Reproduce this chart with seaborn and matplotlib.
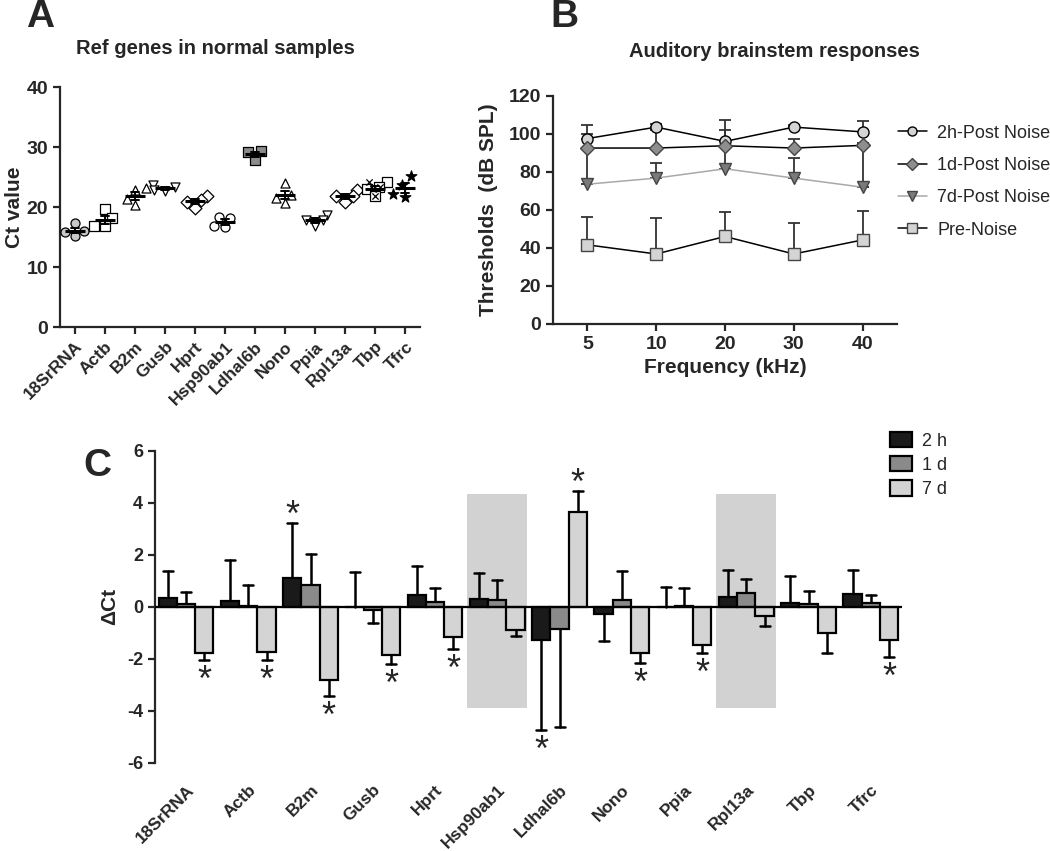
import numpy as np
import pandas as pd
import matplotlib
matplotlib.use("Agg")
import matplotlib.pyplot as plt
import seaborn as sns
from matplotlib.lines import Line2D

# ------------------------
# Panel A: Ct values of reference genes in normal samples
# ------------------------
genes = ["18SrRNA", "Actb", "B2m", "Gusb", "Hprt", "Hsp90ab1",
         "Ldhal6b", "Nono", "Ppia", "Rpl13a", "Tbp", "Tfrc"]
ct_18srrna = [17.3, 16.0, 15.9, 15.1]
ct_actb = [19.7, 18.1, 16.8, 16.8]
ct_b2m = [23.1, 22.8, 21.4, 20.3]
ct_gusb = [23.4, 23.6, 22.6, 22.8]
ct_hprt = [21.8, 21.2, 20.9, 19.8]
ct_hsp90ab1 = [18.3, 18.2, 16.8, 16.7]
ct_ldhal6b = [29.3, 29.2, 27.9]
ct_nono = [24.0, 22.0, 21.5, 20.6]
ct_ppia = [18.6, 17.8, 17.9, 16.8]
ct_rpl13a = [22.8, 21.9, 21.8, 20.8]
ct_tbp = [24.1, 23.4, 23.0, 21.8]
ct_tfrc = [25.2, 23.7, 22.2, 21.7]
ct_values = [ct_18srrna, ct_actb, ct_b2m, ct_gusb, ct_hprt, ct_hsp90ab1,
             ct_ldhal6b, ct_nono, ct_ppia, ct_rpl13a, ct_tbp, ct_tfrc]

# ------------------------
# Panel B: ABR thresholds (mean, upper SD)
# ------------------------
freqs = ["5", "10", "20", "30", "40"]
abr_2h = [97.5, 103.5, 96.0, 103.5, 101.0]
abr_2h_sd = [7.0, 1.5, 11.5, 1.0, 5.5]
abr_1d = [92.5, 92.5, 93.7, 92.5, 93.9]
abr_1d_sd = [7.5, 9.5, 8.5, 5.0, 1.0]
abr_7d = [73.5, 76.7, 81.6, 76.7, 71.9]
abr_7d_sd = [19.0, 8.0, 11.5, 10.5, 21.0]
abr_pre = [41.6, 36.8, 46.0, 36.8, 44.2]
abr_pre_sd = [14.4, 18.7, 13.1, 16.5, 15.3]
abr_labels = ["2h-Post Noise", "1d-Post Noise", "7d-Post Noise", "Pre-Noise"]

# ------------------------
# Panel C: delta Ct after noise
# ------------------------
times = ["2 h", "1 d", "7 d"]
dct_2h = [0.35, 0.22, 1.12, 0.0, 0.45, 0.31, -1.29, -0.29, 0.0, 0.38, 0.14, 0.50]
dct_2h_err = [1.02, 1.58, 2.10, 1.35, 1.13, 1.00, 3.44, 1.04, 0.74, 1.04, 1.03, 0.91]
dct_1d = [0.09, 0.02, 0.83, -0.13, 0.18, 0.26, -0.87, 0.27, 0.02, 0.53, 0.10, 0.13]
dct_1d_err = [0.49, 0.80, 1.18, 0.50, 0.54, 0.75, 3.75, 1.10, 0.70, 0.55, 0.52, 0.32]
dct_7d = [-1.77, -1.73, -2.82, -1.87, -1.17, -0.91, 3.65, -1.77, -1.46, -0.36, -1.00, -1.29]
dct_7d_err = [0.28, 0.32, 0.62, 0.32, 0.46, 0.22, 0.80, 0.38, 0.31, 0.38, 0.77, 0.65]
significant = [("18SrRNA", "7 d"), ("Actb", "7 d"), ("B2m", "2 h"), ("B2m", "7 d"),
               ("Gusb", "7 d"), ("Hprt", "7 d"), ("Ldhal6b", "2 h"), ("Ldhal6b", "7 d"),
               ("Nono", "7 d"), ("Ppia", "7 d"), ("Tfrc", "7 d")]
shaded_genes = ["Hsp90ab1", "Rpl13a"]
shade_range = (-3.9, 4.35)

sns.set_style("ticks")
plt.rcParams["font.family"] = ["Liberation Sans", "DejaVu Sans"]
plt.rcParams["axes.unicode_minus"] = False
plt.rcParams["axes.linewidth"] = 1.6
plt.rcParams["xtick.major.width"] = 1.6
plt.rcParams["ytick.major.width"] = 1.6
plt.rcParams["xtick.major.size"] = 5
plt.rcParams["ytick.major.size"] = 5

fig = plt.figure(figsize=(10.5, 8.51), dpi=100)
axA = fig.add_axes([0.0571, 0.6157, 0.343, 0.282])
axB = fig.add_axes([0.5267, 0.6193, 0.3276, 0.2682])
axC = fig.add_axes([0.1476, 0.1038, 0.7114, 0.3666])

# ---------- A ----------
dfA = pd.DataFrame({
    "gene": [g for g, v in zip(genes, ct_values) for _ in v],
    "ct": [x for v in ct_values for x in v],
})
marker_styles = [("o", "#c8c8c8"), ("s", "white"), ("^", "white"), ("v", "white"),
                 ("D", "white"), ("o", "white"), ("s", "#8c8c8c"), ("^", "white"),
                 ("v", "white"), ("D", "white"), ("s", "white"), ("*", "black")]
for g, (mk, fc) in zip(genes, marker_styles):
    sub = dfA[dfA["gene"] == g]
    sz = 8 if mk == "*" else 6.5
    sns.swarmplot(data=sub, x="gene", y="ct", order=genes, marker=mk, color=fc,
                  edgecolor="black", linewidth=0.9, size=sz, ax=axA, zorder=3)
    if g == "Tbp":
        sns.swarmplot(data=sub, x="gene", y="ct", order=genes, marker="x", color="black",
                      linewidth=0.9, size=4.5, ax=axA, zorder=4)
sns.pointplot(data=dfA, x="gene", y="ct", order=genes, errorbar="se", capsize=0.25,
              color="black", marker="_", markersize=15, markeredgewidth=2.2,
              linestyle="none", err_kws={"linewidth": 1.4}, ax=axA, zorder=5)
axA.set_ylim(0, 40)
axA.set_xlim(-0.5, 11.5)
axA.set_yticks([0, 10, 20, 30, 40])
axA.set_xlabel("")
axA.set_ylabel("Ct value", fontsize=15, fontweight="bold", labelpad=2)
axA.set_xticks(range(len(genes)))
axA.set_xticklabels(genes, rotation=45, ha="right", rotation_mode="anchor",
                    fontsize=12.5, fontweight="bold")
for lab in axA.get_yticklabels():
    lab.set_fontweight("bold")
    lab.set_fontsize(14)
sns.despine(ax=axA)

# ---------- B ----------
series_B = [
    (abr_2h, abr_2h_sd, "o", "#d4d4d4", "black", "black"),
    (abr_1d, abr_1d_sd, "D", "#8e8e8e", "black", "#444444"),
    (abr_7d, abr_7d_sd, "v", "#7a7a7a", "#a8a8a8", "#444444"),
    (abr_pre, abr_pre_sd, "s", "#d4d4d4", "black", "#444444"),
]
handles = []
for (vals, sd, mk, fc, lc, ec), lab in zip(series_B, abr_labels):
    pos = np.arange(len(freqs))
    axB.errorbar(pos, vals, yerr=[np.zeros(len(sd)), sd], fmt="none", ecolor="#333333",
                 elinewidth=1.3, capsize=4, capthick=1.3, zorder=2)
    sns.pointplot(x=freqs, y=vals, order=freqs, errorbar=None, color=lc, marker=mk,
                  markersize=8 if mk != "D" else 7, markerfacecolor=fc,
                  markeredgecolor=ec, markeredgewidth=1.0, linewidth=1.1, ax=axB, zorder=3)
    handles.append(Line2D([], [], color=lc, marker=mk, markerfacecolor=fc,
                          markeredgecolor=ec, markersize=6.5, linewidth=1.1, label=lab))
axB.set_ylim(0, 120)
axB.set_xlim(-0.5, 4.5)
axB.set_yticks(range(0, 121, 20))
axB.set_xlabel("Frequency (kHz)", fontsize=15, fontweight="bold", labelpad=4)
axB.set_ylabel("Thresholds  (dB SPL)", fontsize=15, fontweight="bold", labelpad=8)
for lab in axB.get_xticklabels() + axB.get_yticklabels():
    lab.set_fontweight("bold")
    lab.set_fontsize(14)
sns.despine(ax=axB)
fig.legend(handles=handles, loc="upper left", bbox_to_anchor=(0.848, 0.862),
           frameon=False, fontsize=13, handlelength=1.6, labelspacing=0.85,
           handletextpad=0.6, borderaxespad=0)

# ---------- C ----------
dfC = pd.DataFrame({
    "gene": genes * 3,
    "time": [t for t in times for _ in genes],
    "dct": dct_2h + dct_1d + dct_7d,
    "err": dct_2h_err + dct_1d_err + dct_7d_err,
})
for g in shaded_genes:
    i = genes.index(g)
    axC.fill_between([i - 0.48, i + 0.48], shade_range[0], shade_range[1],
                     color="#d2d2d2", linewidth=0, zorder=0)
sns.barplot(data=dfC, x="gene", y="dct", hue="time", order=genes, hue_order=times,
            palette=["#1a1a1a", "#8a8a8a", "#d4d4d4"], width=0.88, errorbar=None,
            edgecolor="black", linewidth=1.6, saturation=1, ax=axC, zorder=2)
axC.axhline(0, color="black", linewidth=1.6, zorder=3)
for t, cont in zip(times, axC.containers):
    sub = dfC[dfC["time"] == t]
    for bar, (_, row) in zip(cont, sub.iterrows()):
        x = bar.get_x() + bar.get_width() / 2
        v = row["dct"]
        sign = 1 if v >= 0 else -1
        end = v + sign * row["err"]
        axC.plot([x, x], [v, end], color="black", linewidth=1.8, zorder=1.5)
        axC.plot([x - 0.08, x + 0.08], [end, end], color="black", linewidth=1.8, zorder=1.5)
        if (row["gene"], t) in significant:
            y_star = end - 1.2 if sign < 0 else end - 0.12
            axC.text(x, y_star, "*", ha="center", va="baseline",
                     fontsize=26, zorder=4)
axC.set_ylim(-6, 6)
axC.set_xlim(-0.5, 11.5)
axC.set_yticks(range(-6, 7, 2))
axC.set_xlabel("")
axC.set_ylabel("ΔCt", fontsize=15, fontweight="bold", labelpad=6)
axC.tick_params(axis="x", length=0, pad=14)
axC.set_xticks(range(len(genes)))
axC.set_xticklabels(genes, rotation=45, ha="right", rotation_mode="anchor",
                    fontsize=12.5, fontweight="bold")
for lab in axC.get_yticklabels():
    lab.set_fontweight("bold")
    lab.set_fontsize(13)
sns.despine(ax=axC, bottom=True)
sns.move_legend(axC, "upper left", bbox_to_anchor=(0.832, 0.512),
                bbox_transform=fig.transFigure, frameon=False, title=None,
                fontsize=13, handlelength=1.2, handleheight=0.95, labelspacing=0.35,
                handletextpad=0.6)

# panel letters and titles
fig.text(0.038, 0.98, "A", fontsize=28, fontweight="bold", ha="center", va="center")
fig.text(0.538, 0.98, "B", fontsize=28, fontweight="bold", ha="center", va="center")
fig.text(0.093, 0.452, "C", fontsize=28, fontweight="bold", ha="center", va="center")
fig.text(0.205, 0.943, "Ref genes in normal samples", fontsize=14.5,
         fontweight="bold", ha="center", va="center")
fig.text(0.738, 0.939, "Auditory brainstem responses", fontsize=14.5,
         fontweight="bold", ha="center", va="center")

fig.savefig("out.png", dpi=100)
